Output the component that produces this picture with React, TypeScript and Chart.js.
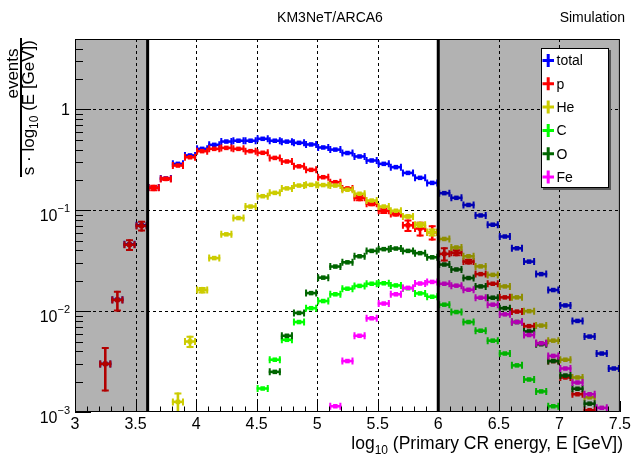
import { useEffect, useRef } from "react";
import { Chart, registerables } from "chart.js";

Chart.register(...registerables);

const FONT = '"Liberation Sans", Arial, Helvetica, sans-serif';

// ---- data ----
const binCenters = [
  3.25, 3.35, 3.45, 3.55, 3.65, 3.75, 3.85, 3.95, 4.05, 4.15, 4.25, 4.35, 4.45, 4.55, 4.65,
  4.75, 4.85, 4.95, 5.05, 5.15, 5.25, 5.35, 5.45, 5.55, 5.65, 5.75, 5.85, 5.95, 6.05, 6.15,
  6.25, 6.35, 6.45, 6.55, 6.65, 6.75, 6.85, 6.95, 7.05, 7.15, 7.25, 7.35, 7.45,
];
const binHalfWidth = 0.05;

const totalValues = [
  0.003, 0.013, 0.046, 0.071, 0.168, 0.207, 0.289, 0.35, 0.407, 0.446, 0.481, 0.49, 0.49, 0.512, 0.49,
  0.48, 0.467, 0.45, 0.42, 0.4, 0.37, 0.342, 0.312, 0.289, 0.268, 0.235, 0.21, 0.187, 0.148, 0.133,
  0.113, 0.089, 0.072, 0.055, 0.042, 0.031, 0.0233, 0.0162, 0.0114, 0.008, 0.0056, 0.0038, 0.0027,
];
const pValues = [
  0.003, 0.0129, 0.0456, 0.0701, 0.167, 0.205, 0.278, 0.336, 0.386, 0.407, 0.416, 0.407, 0.386, 0.372, 0.331,
  0.305, 0.273, 0.252, 0.213, 0.19, 0.165, 0.133, 0.116, 0.099, 0.092, 0.071, 0.066, 0.0606, 0.037, 0.038,
  0.031, 0.0233, 0.0187, 0.0137, 0.0099, 0.0071, 0.0048, 0.0032, 0.0022, 0.0015, 0.00104, null, null,
];
const pErrors = [
  0.0014, 0.003, 0.006, 0.0085, 0.012, 0.01, 0, 0, 0, 0, 0, 0, 0, 0, 0,
  0, 0, 0, 0, 0, 0, 0.01, 0.006, 0.007, 0.005, 0.01, 0.011, 0.0105, 0.006, 0.003,
  0.002, 0, 0, 0, 0, 0, 0, 0, 0, 0, 0, 0, 0,
];
const heValues = [
  null, null, null, null, null, null, 0.00126, 0.005, 0.0162, 0.0336, 0.0578, 0.0838, 0.109, 0.138, 0.149,
  0.165, 0.176, 0.179, 0.178, 0.176, 0.16, 0.146, 0.125, 0.109, 0.099, 0.087, 0.072, 0.0606, 0.052, 0.0428,
  0.035, 0.0278, 0.0229, 0.0176, 0.0137, 0.01, 0.0072, 0.0051, 0.0033, 0.0022, 0.0014, null, null,
];
const heErrors = [
  0, 0, 0, 0, 0, 0, 0.0003, 0.0007, 0.0012, 0, 0, 0, 0, 0, 0,
  0, 0, 0, 0, 0, 0, 0, 0, 0, 0, 0.004, 0.005, 0.0055, 0, 0,
  0, 0, 0, 0, 0, 0, 0, 0, 0, 0, 0, 0, 0,
];
const cValues = [
  null, null, null, null, null, null, null, null, null, null, null, null, null, 0.00171, 0.0033,
  0.0052, 0.0078, 0.0107, 0.0126, 0.0147, 0.0167, 0.0178, 0.0187, 0.0189, 0.018, 0.0169, 0.015, 0.0139, 0.0116, 0.0098,
  0.0078, 0.0064, 0.0051, 0.0038, 0.0029, 0.0021, 0.0016, 0.00114, null, null, null, null, null,
];
const oValues = [
  null, null, null, null, null, null, null, null, null, null, null, null, null, null, 0.0025,
  0.0057, 0.0096, 0.0151, 0.0215, 0.0277, 0.0305, 0.035, 0.0396, 0.0412, 0.0418, 0.0396, 0.0376, 0.0342, 0.029, 0.0259,
  0.0213, 0.0176, 0.0136, 0.0107, 0.0078, 0.0063, 0.0047, 0.0032, 0.0023, 0.0017, 0.00121, null, null,
];
const feValues = [
  null, null, null, null, null, null, null, null, null, null, null, null, null, null, null,
  null, null, null, null, 0.00114, 0.0032, 0.0057, 0.0085, 0.0119, 0.0147, 0.017, 0.0188, 0.0195, 0.0187, 0.0179,
  0.0163, 0.0136, 0.0116, 0.0093, 0.0078, 0.0058, 0.0048, 0.0036, 0.0027, 0.00196, 0.0015, 0.0011, null,
];

const seriesLabels = ["total", "p", "He", "C", "O", "Fe"];
const seriesColors = ["#0000ff", "#ff0000", "#cccc00", "#00ff00", "#006600", "#ff00ff"];

const xTickValues = [3, 3.5, 4, 4.5, 5, 5.5, 6, 6.5, 7, 7.5];
const xTickLabels = ["3", "3.5", "4", "4.5", "5", "5.5", "6", "6.5", "7", "7.5"];
const yDecades = [0.001, 0.01, 0.1, 1];
const yDecadeExponents = ["\u22123", "\u22122", "\u22121", ""];
const acceptanceLow = 3.6;
const acceptanceHigh = 6.0;
const titleText = "KM3NeT/ARCA6";
const statusText = "Simulation";

type Pt = { x: number; y: number; err: number };

function buildPoints(vals: (number | null)[], errs?: number[]): Pt[] {
  const out: Pt[] = [];
  vals.forEach((v, i) => {
    if (v !== null) out.push({ x: binCenters[i], y: v, err: errs ? errs[i] : 0 });
  });
  return out;
}

const errorBarPlugin = {
  id: "errorBars",
  afterDatasetDraw(chart: any, args: any) {
    const ds = chart.data.datasets[args.index];
    const { ctx, chartArea: a } = chart;
    const xs = chart.scales.x;
    const ys = chart.scales.y;
    ctx.save();
    ctx.beginPath();
    ctx.rect(a.left, a.top, a.right - a.left, a.bottom - a.top);
    ctx.clip();
    ctx.strokeStyle = ds.borderColor;
    for (const p of ds.data as Pt[]) {
      const x0 = xs.getPixelForValue(p.x - binHalfWidth);
      const x1 = xs.getPixelForValue(p.x + binHalfWidth);
      const xc = xs.getPixelForValue(p.x);
      const py = ys.getPixelForValue(p.y);
      ctx.lineWidth = 2.6;
      ctx.beginPath();
      ctx.moveTo(x0, py);
      ctx.lineTo(x1, py);
      ctx.stroke();
      ctx.lineWidth = 2;
      ctx.beginPath();
      ctx.moveTo(x0 + 1, py - 3.5);
      ctx.lineTo(x0 + 1, py + 3.5);
      ctx.moveTo(x1 - 1, py - 3.5);
      ctx.lineTo(x1 - 1, py + 3.5);
      ctx.stroke();
      if (p.err > 0) {
        const yt = ys.getPixelForValue(p.y + p.err);
        const yb = p.y - p.err > 0 ? ys.getPixelForValue(p.y - p.err) : a.bottom + 20;
        ctx.lineWidth = 2.6;
        ctx.beginPath();
        ctx.moveTo(xc, yt);
        ctx.lineTo(xc, yb);
        ctx.stroke();
        ctx.lineWidth = 2;
        ctx.beginPath();
        ctx.moveTo(xc - 3.5, yt + 1);
        ctx.lineTo(xc + 3.5, yt + 1);
        ctx.moveTo(xc - 3.5, yb - 1);
        ctx.lineTo(xc + 3.5, yb - 1);
        ctx.stroke();
      }
    }
    ctx.restore();
  },
};

const decorPlugin = {
  id: "rootDecor",
  beforeDatasetsDraw(chart: any) {
    const { ctx, chartArea: a } = chart;
    const xs = chart.scales.x;
    const ys = chart.scales.y;
    ctx.save();
    ctx.strokeStyle = "#000";
    ctx.lineWidth = 1;
    ctx.setLineDash([3, 3]);
    xTickValues.forEach((v) => {
      if (v <= xs.min || v >= xs.max) return;
      const px = Math.round(xs.getPixelForValue(v)) + 0.5;
      ctx.beginPath();
      ctx.moveTo(px, a.top);
      ctx.lineTo(px, a.bottom);
      ctx.stroke();
    });
    yDecades.forEach((v) => {
      if (v <= ys.min || v >= ys.max) return;
      const py = Math.round(ys.getPixelForValue(v)) + 0.5;
      ctx.beginPath();
      ctx.moveTo(a.left, py);
      ctx.lineTo(a.right, py);
      ctx.stroke();
    });
    ctx.restore();
  },
  afterDatasetsDraw(chart: any) {
    const { ctx, chartArea: a } = chart;
    const xs = chart.scales.x;
    const ys = chart.scales.y;
    const xl = xs.getPixelForValue(acceptanceLow);
    const xh = xs.getPixelForValue(acceptanceHigh);
    ctx.save();
    ctx.fillStyle = "rgba(0,0,0,0.3)";
    ctx.fillRect(a.left, a.top, xl - a.left, a.bottom - a.top);
    ctx.fillRect(xh, a.top, a.right - xh, a.bottom - a.top);
    ctx.strokeStyle = "#000";
    ctx.lineWidth = 3;
    ctx.beginPath();
    ctx.moveTo(xl, a.top);
    ctx.lineTo(xl, a.bottom);
    ctx.moveTo(xh, a.top);
    ctx.lineTo(xh, a.bottom);
    ctx.stroke();
    // frame
    ctx.lineWidth = 1;
    ctx.strokeRect(a.left + 0.5, a.top + 0.5, a.right - a.left - 1, a.bottom - a.top - 1);
    // x ticks (inside)
    ctx.beginPath();
    for (let k = 0; k <= 45; k++) {
      const v = 3 + k * 0.1;
      const px = Math.round(xs.getPixelForValue(v)) + 0.5;
      const len = k % 5 === 0 ? 11 : 5.5;
      ctx.moveTo(px, a.bottom);
      ctx.lineTo(px, a.bottom - len);
    }
    // y ticks (inside)
    yDecades.forEach((d) => {
      for (let m = 1; m <= 9; m++) {
        const v = m * d;
        if (v > ys.max) break;
        const py = Math.round(ys.getPixelForValue(v)) + 0.5;
        const len = m === 1 ? 16 : 8;
        ctx.moveTo(a.left, py);
        ctx.lineTo(a.left + len, py);
      }
    });
    ctx.stroke();
    ctx.restore();
  },
  afterDraw(chart: any) {
    const { ctx, chartArea: a } = chart;
    const ys = chart.scales.y;
    ctx.save();
    ctx.fillStyle = "#000";
    // y tick labels
    yDecades.forEach((d, i) => {
      const py = ys.getPixelForValue(d);
      const exp = yDecadeExponents[i];
      if (exp === "") {
        ctx.font = `16px ${FONT}`;
        ctx.textAlign = "right";
        ctx.textBaseline = "middle";
        ctx.fillText("1", a.left - 5, py + 1);
      } else {
        ctx.font = `11px ${FONT}`;
        const ew = ctx.measureText(exp).width;
        ctx.textAlign = "right";
        ctx.textBaseline = "alphabetic";
        ctx.fillText(exp, a.left - 5, py + 2);
        ctx.font = `16px ${FONT}`;
        ctx.fillText("10", a.left - 5 - ew, py + 11);
      }
    });
    // top texts
    ctx.font = `14px ${FONT}`;
    ctx.textBaseline = "middle";
    ctx.textAlign = "center";
    ctx.fillText(titleText, 330, 18);
    ctx.textAlign = "right";
    ctx.fillText(statusText, 625, 18);
    // x axis title
    const part1 = "log";
    const sub = "10";
    const part2 = " (Primary CR energy, E [GeV])";
    ctx.font = `17.5px ${FONT}`;
    const w1 = ctx.measureText(part1).width;
    const w3 = ctx.measureText(part2).width;
    ctx.font = `12px ${FONT}`;
    const w2 = ctx.measureText(sub).width;
    const xEnd = 623;
    const xStart = xEnd - (w1 + w2 + w3);
    const base = 449;
    ctx.textAlign = "left";
    ctx.textBaseline = "alphabetic";
    ctx.font = `17.5px ${FONT}`;
    ctx.fillText(part1, xStart, base);
    ctx.font = `12px ${FONT}`;
    ctx.fillText(sub, xStart + w1, base + 5);
    ctx.font = `17.5px ${FONT}`;
    ctx.fillText(part2, xStart + w1 + w2, base);
    // y axis title (fraction, rotated)
    ctx.save();
    ctx.translate(13, 73.5);
    ctx.rotate(-Math.PI / 2);
    ctx.font = `17px ${FONT}`;
    ctx.textAlign = "center";
    ctx.textBaseline = "middle";
    ctx.fillText("events", 0, 0);
    ctx.restore();
    ctx.lineWidth = 2;
    ctx.beginPath();
    ctx.moveTo(21, 38);
    ctx.lineTo(21, 177);
    ctx.stroke();
    const d1 = "s \u00b7 log";
    const d2 = "10";
    const d3 = " (E [GeV])";
    ctx.font = `17px ${FONT}`;
    const dw1 = ctx.measureText(d1).width;
    const dw3 = ctx.measureText(d3).width;
    ctx.font = `12px ${FONT}`;
    const dw2 = ctx.measureText(d2).width;
    const total = dw1 + dw2 + dw3;
    ctx.save();
    ctx.translate(34, 40 + total);
    ctx.rotate(-Math.PI / 2);
    ctx.textAlign = "left";
    ctx.textBaseline = "alphabetic";
    ctx.font = `17px ${FONT}`;
    ctx.fillText(d1, 0, 0);
    ctx.font = `12px ${FONT}`;
    ctx.fillText(d2, dw1, 4);
    ctx.font = `17px ${FONT}`;
    ctx.fillText(d3, dw1 + dw2, 0);
    ctx.restore();
    // legend
    const lx = 541, ly = 48, lw = 68, lh = 140;
    ctx.fillStyle = "#555";
    ctx.fillRect(lx + 2, ly + 2, lw, lh);
    ctx.fillStyle = "#fff";
    ctx.fillRect(lx, ly, lw, lh);
    ctx.strokeStyle = "#000";
    ctx.lineWidth = 1;
    ctx.strokeRect(lx + 0.5, ly + 0.5, lw - 1, lh - 1);
    chart.data.datasets.forEach((ds: any, i: number) => {
      const yc = ly + 12.5 + i * 23.3;
      ctx.strokeStyle = ds.borderColor;
      ctx.lineWidth = 3;
      ctx.beginPath();
      ctx.moveTo(542.5, yc);
      ctx.lineTo(554, yc);
      ctx.moveTo(548.2, yc - 6.5);
      ctx.lineTo(548.2, yc + 6.5);
      ctx.stroke();
      ctx.fillStyle = "#000";
      ctx.font = `14px ${FONT}`;
      ctx.textAlign = "left";
      ctx.textBaseline = "middle";
      ctx.fillText(ds.label, 556.5, yc + 1);
    });
    ctx.restore();
  },
};

export default function App() {
  const ref = useRef<HTMLCanvasElement | null>(null);
  useEffect(() => {
    document.body.style.margin = "0";
    const canvas = ref.current;
    if (!canvas) return;
    const seriesData = [
      buildPoints(totalValues),
      buildPoints(pValues, pErrors),
      buildPoints(heValues, heErrors),
      buildPoints(cValues),
      buildPoints(oValues),
      buildPoints(feValues),
    ];
    const chart = new Chart(canvas, {
      type: "scatter",
      data: {
        datasets: seriesLabels.map((label, k) => ({
          label,
          data: seriesData[k],
          borderColor: seriesColors[k],
          backgroundColor: seriesColors[k],
          pointStyle: "rect",
          pointRadius: 3.2,
          pointBorderWidth: 0,
          order: seriesLabels.length - 1 - k,
        })),
      },
      options: {
        animation: false,
        responsive: false,
        devicePixelRatio: 1,
        layout: { padding: { top: 39, right: 10, left: 0, bottom: 0 } },
        plugins: { legend: { display: false }, tooltip: { enabled: false }, title: { display: false } },
        scales: {
          x: {
            type: "linear",
            min: 3,
            max: 7.5,
            grid: { display: false, drawTicks: false },
            border: { display: false },
            afterBuildTicks: (s: any) => {
              s.ticks = xTickValues.map((v) => ({ value: v }));
            },
            ticks: {
              padding: 3,
              color: "#000",
              font: { family: FONT, size: 16 },
              maxRotation: 0,
              autoSkip: false,
              callback: (v: any) => {
                const i = xTickValues.indexOf(Number(v));
                return i >= 0 ? xTickLabels[i] : "";
              },
            },
            afterFit: (s: any) => {
              s.height = 42;
            },
          },
          y: {
            type: "logarithmic",
            min: 0.001,
            max: 5,
            grid: { display: false, drawTicks: false },
            border: { display: false },
            ticks: { display: false },
            afterFit: (s: any) => {
              s.width = 75;
            },
          },
        },
      },
      plugins: [errorBarPlugin, decorPlugin],
    } as any);
    return () => chart.destroy();
  }, []);
  return <canvas ref={ref} width={634} height={454} style={{ display: "block" }} />;
}
